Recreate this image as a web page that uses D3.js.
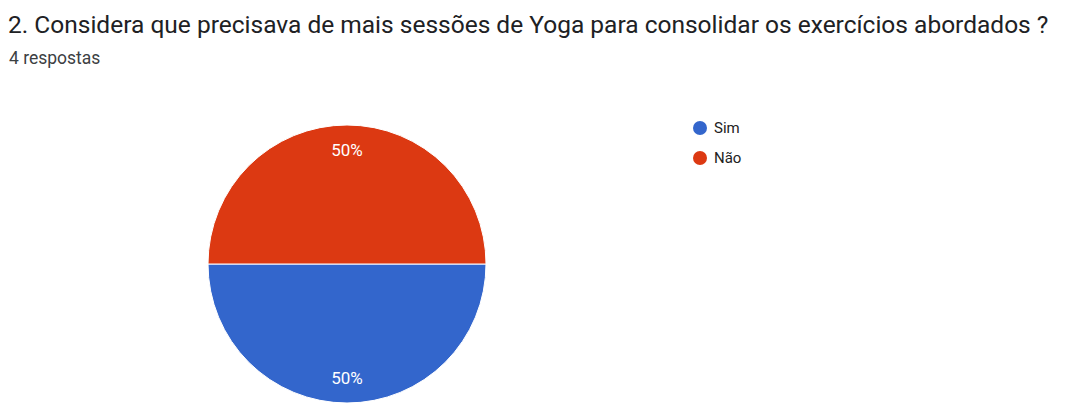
<!DOCTYPE html>
<html>
<head>
<meta charset="utf-8">
<script src="https://cdn.jsdelivr.net/npm/d3@7"></script>
<style>
  body { margin: 0; background: #fff; }
  svg { display: block; font-family: Roboto, Arial, sans-serif; }
</style>
</head>
<body>
<div id="chart"></div>
<script>
// chart data
const titleText = "2. Considera que precisava de mais sessões de Yoga para consolidar os exercícios abordados ?";
const subtitleText = "4 respostas";
const categories = ["Sim", "Não"];
const counts = [2, 2];
const colors = ["#3366cc", "#dc3912"];

const width = 1069, height = 403;

const svg = d3.select("#chart")
  .append("svg")
  .attr("width", width)
  .attr("height", height);

// title + subtitle
svg.append("text")
  .attr("x", 8)
  .attr("y", 33)
  .style("font-size", "24.5px")
  .style("fill", "#202124")
  .text(titleText);

svg.append("text")
  .attr("x", 9)
  .attr("y", 64)
  .style("font-size", "17.5px")
  .style("fill", "#3c4043")
  .text(subtitleText);

// pie
const cx = 347, cy = 264, radius = 139;
const total = d3.sum(counts);
const data = categories.map((c, i) => ({ name: c, value: counts[i] }));

const color = d3.scaleOrdinal().domain(categories).range(colors);

// starts at 3 o'clock, clockwise (Sim ends up on the bottom half)
const pie = d3.pie()
  .value(d => d.value)
  .sort(null)
  .startAngle(Math.PI / 2)
  .endAngle(Math.PI / 2 + 2 * Math.PI);

const arc = d3.arc().innerRadius(0).outerRadius(radius);
const labelArc = d3.arc().innerRadius(radius * 0.82).outerRadius(radius * 0.82);

const g = svg.append("g").attr("transform", `translate(${cx},${cy})`);

g.selectAll("path")
  .data(pie(data))
  .enter()
  .append("path")
  .attr("d", arc)
  .attr("fill", d => color(d.data.name))
  .attr("stroke", "#fff")
  .attr("stroke-width", 1);

g.selectAll(".slice-label")
  .data(pie(data))
  .enter()
  .append("text")
  .attr("class", "slice-label")
  .attr("transform", d => `translate(${labelArc.centroid(d)})`)
  .attr("text-anchor", "middle")
  .attr("dy", "0.35em")
  .style("font-size", "17px")
  .style("fill", "#fff")
  .text(d => Math.round(d.data.value / total * 100) + "%");

// legend
const legend = svg.selectAll(".legend")
  .data(categories)
  .enter()
  .append("g")
  .attr("class", "legend")
  .attr("transform", (d, i) => `translate(700,${128 + i * 30})`);

legend.append("circle")
  .attr("r", 7)
  .attr("fill", d => color(d));

legend.append("text")
  .attr("x", 14)
  .attr("dy", "0.35em")
  .style("font-size", "15px")
  .style("fill", "#222")
  .text(d => d);
</script>
</body>
</html>
